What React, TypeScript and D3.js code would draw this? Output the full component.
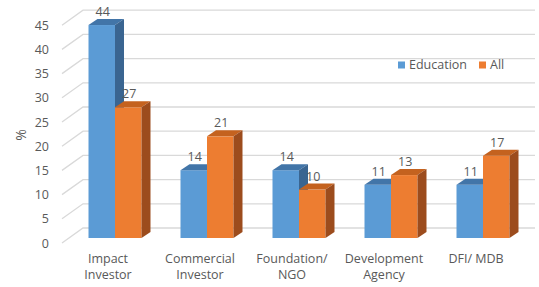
import React from "react";
import * as d3 from "d3";

const categories = [["Impact", "Investor"], ["Commercial", "Investor"], ["Foundation/", "NGO"], ["Development", "Agency"], ["DFI/ MDB"]];
const catKeys = ["Impact Investor", "Commercial Investor", "Foundation/ NGO", "Development Agency", "DFI/ MDB"];
const seriesNames = ["Education", "All"];
const education = [44, 14, 14, 11, 11];
const all = [27, 21, 10, 13, 17];
const yTicks = [0, 5, 10, 15, 20, 25, 30, 35, 40, 45];

const colors = {
  Education: { front: "#5B9BD5", top: "#4275A8", side: "#3A6591" },
  All: { front: "#ED7D31", top: "#C4621F", side: "#9C4C1D" },
};

export default function App() {
  const W = 539, H = 287;
  const font = "'Open Sans', sans-serif";
  const textColor = "#595959";
  const floorDx = 21, floorDy = -15;
  const labelX = 62;
  const frontOffY = -5;
  const barDx = 9, barDy = -6;

  const yLabel = d3.scaleLinear().domain([0, 45]).range([243, 243 - 4.84 * 45]);
  const yFront = (v: number) => yLabel(v) + frontOffY;

  const x = d3.scaleBand<string>().domain(catKeys).range([69, 529]).paddingInner(0.424).paddingOuter(0.212);
  const xs = d3.scaleBand<string>().domain(seriesNames).range([0, x.bandwidth()]);

  const data = catKeys.map((k, i) => ({ key: k, lines: categories[i], values: [education[i], all[i]] }));

  return (
    <svg width={W} height={H} style={{ position: "absolute", left: 0, top: 0, background: "#fff" }}>
      {yTicks.map((t) => (
        <g key={t}>
          <polyline
            points={`${labelX},${yLabel(t)} ${labelX + floorDx},${yLabel(t) + floorDy} 535,${yLabel(t) + floorDy}`}
            fill="none"
            stroke="#D9D9D9"
            strokeWidth={1.3}
          />
          <text x={49} y={yLabel(t) + 4.5} textAnchor="end" fontFamily={font} fontSize={12.5} fill={textColor}>
            {t}
          </text>
        </g>
      ))}
      <text transform="translate(26,135) rotate(-90)" textAnchor="middle" fontFamily={font} fontSize={14} fill={textColor}>
        %
      </text>

      {data.map((d) => (
        <g key={d.key}>
          {seriesNames.map((s, si) => {
            const v = d.values[si];
            const x0 = (x(d.key) as number) + (xs(s) as number);
            const x1 = x0 + xs.bandwidth();
            const yt = yFront(v);
            const yb = yFront(0);
            const c = (colors as any)[s];
            return (
              <g key={s}>
                <rect x={x0} y={yt} width={x1 - x0} height={yb - yt} fill={c.front} />
                <polygon points={`${x0},${yt} ${x0 + barDx},${yt + barDy} ${x1 + barDx},${yt + barDy} ${x1},${yt}`} fill={c.top} />
                <polygon points={`${x1},${yt} ${x1 + barDx},${yt + barDy} ${x1 + barDx},${yb + barDy} ${x1},${yb}`} fill={c.side} />
              </g>
            );
          })}
          {seriesNames.map((s, si) => {
            const v = d.values[si];
            const cx = (x(d.key) as number) + (xs(s) as number) + xs.bandwidth() / 2 + 1;
            return (
              <text key={s} x={cx} y={yFront(v) - 9} textAnchor="middle" fontFamily={font} fontSize={12.5} fill={textColor}>
                {v}
              </text>
            );
          })}
          {d.lines.map((ln, li) => (
            <text
              key={li}
              x={(x(d.key) as number) + x.bandwidth() / 2 - 7}
              y={263 + li * 16}
              textAnchor="middle"
              fontFamily={font}
              fontSize={12.5}
              fill={textColor}
            >
              {ln}
            </text>
          ))}
        </g>
      ))}

      <rect x={398} y={61.5} width={7} height={7} fill={colors.Education.front} />
      <text x={409} y={69} fontFamily={font} fontSize={12.5} fill={textColor}>Education</text>
      <rect x={479} y={61.5} width={7} height={7} fill={colors.All.front} />
      <text x={490} y={69} fontFamily={font} fontSize={12.5} fill={textColor}>All</text>
    </svg>
  );
}
